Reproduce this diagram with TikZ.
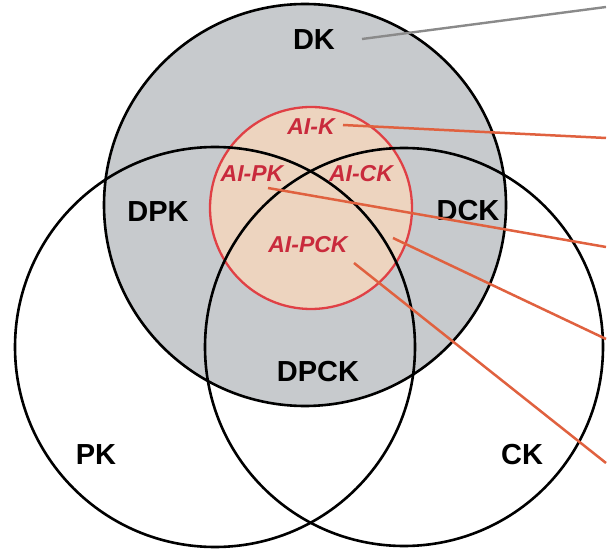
\documentclass[tikz,border=0pt]{standalone}
\usepackage{fontspec}
\setmainfont{Liberation Sans}
\definecolor{dkgray}{HTML}{C7CACD}
\definecolor{aipeach}{HTML}{EDD4BF}
\definecolor{aired}{HTML}{E04045}
\definecolor{aitext}{HTML}{C92A3C}
\definecolor{leader}{HTML}{E0613F}
\definecolor{greylead}{HTML}{8A8A8A}
\tikzset{
  setline/.style={line width=2.6pt, draw=black},
  setlabel/.style={font=\fontsize{29}{29}\selectfont\bfseries, text=black, inner sep=0pt},
  ailabel/.style={font=\fontsize{23}{23}\selectfont\bfseries\itshape, text=aitext, inner sep=0pt},
  leadline/.style={line width=2.5pt, draw=leader},
}
\begin{document}
\begin{tikzpicture}[x=1pt, y=-1pt]
\useasboundingbox (0,0) rectangle (616,556);
\fill[white] (0,0) rectangle (616,556);

% shaded domain-knowledge disc and the AI disc inside it
\fill[dkgray] (305,205) circle[radius=201];
\fill[aipeach] (311,208) circle[radius=101];
\draw[aired, line width=2.3pt] (311,208) circle[radius=101];

% set outlines
\draw[setline] (305,205) circle[radius=201];
\draw[setline] (215,347) circle[radius=200];
\draw[setline] (404,347) circle[radius=199];

% set labels
\node[setlabel] (dk)   at (314,40)  {DK};
\node[setlabel] (dpk)  at (158,212) {DPK};
\node[setlabel] (dck)  at (468,211) {DCK};
\node[setlabel] (dpck) at (318,372) {DPCK};
\node[setlabel] (pk)   at (96,455)  {PK};
\node[setlabel] (ck)   at (522,455) {CK};

\node[ailabel] (aik)   at (311,127) {AI-K};
\node[ailabel] (aipk)  at (252,174) {AI-PK};
\node[ailabel] (aick)  at (361,174) {AI-CK};
\node[ailabel] (aipck) at (308,245) {AI-PCK};

% leader anchors
\coordinate (s0) at (362,39);
\coordinate (e0) at (606,7);
\coordinate (s1) at (343,125);
\coordinate (e1) at (606,138);
\coordinate (s2) at (268,188);
\coordinate (e2) at (606,247);
\coordinate (s3) at (393,238);
\coordinate (e3) at (606,339);
\coordinate (s4) at (354,263);
\coordinate (e4) at (606,463);

% leader lines running off to the right
\draw[greylead, line width=2.4pt] (s0) -- (e0);
\draw[leadline] (s1) -- (e1);
\draw[leadline] (s2) -- (e2);
\draw[leadline] (s3) -- (e3);
\draw[leadline] (s4) -- (e4);
\end{tikzpicture}
\end{document}
